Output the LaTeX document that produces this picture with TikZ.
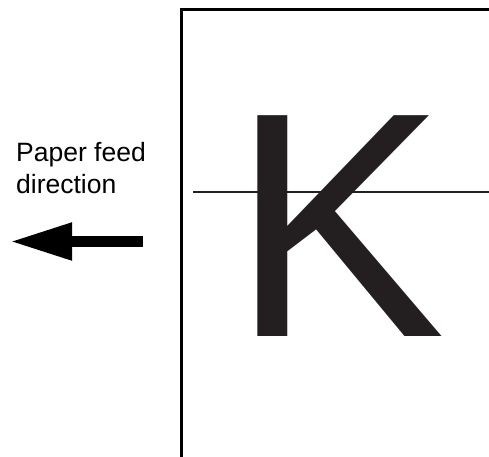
\documentclass[tikz,border=0pt]{standalone}
\usepackage{fontspec}
\setmainfont{Liberation Sans}
\usetikzlibrary{arrows.meta}
\definecolor{kcol}{HTML}{231F20}
\tikzset{
  lbl/.style={anchor=base west, inner sep=0pt, font=\fontsize{26.5}{30}\selectfont},
  paper/.style={line width=3pt, black},
  guide/.style={line width=1.3pt, kcol},
  feed/.style={line width=11pt, -{Triangle[length=62pt,width=35pt]}}
}
\begin{document}
\begin{tikzpicture}[x=1pt,y=-1pt]
\useasboundingbox (0,0) rectangle (489,456);
\coordinate (pb) at (181,457);
\coordinate (pc) at (181,9);
\coordinate (pr) at (490,9);
\draw[paper] (pb) -- (pc) -- (pr);
\node[anchor=base west, inner sep=0pt, text=kcol, font=\fontsize{321}{321}\selectfont] (K) at (231,336) {K};
\coordinate (gl) at (193,192);
\coordinate (gr) at (489,192);
\draw[guide] (gl) -- (gr);
\node[lbl] (t1) at (16,161) {Paper feed};
\node[lbl] (t2) at (16,193) {direction};
\coordinate (as) at (143,241.5);
\coordinate (ae) at (10,241.5);
\draw[feed] (as) -- (ae);
\end{tikzpicture}
\end{document}
